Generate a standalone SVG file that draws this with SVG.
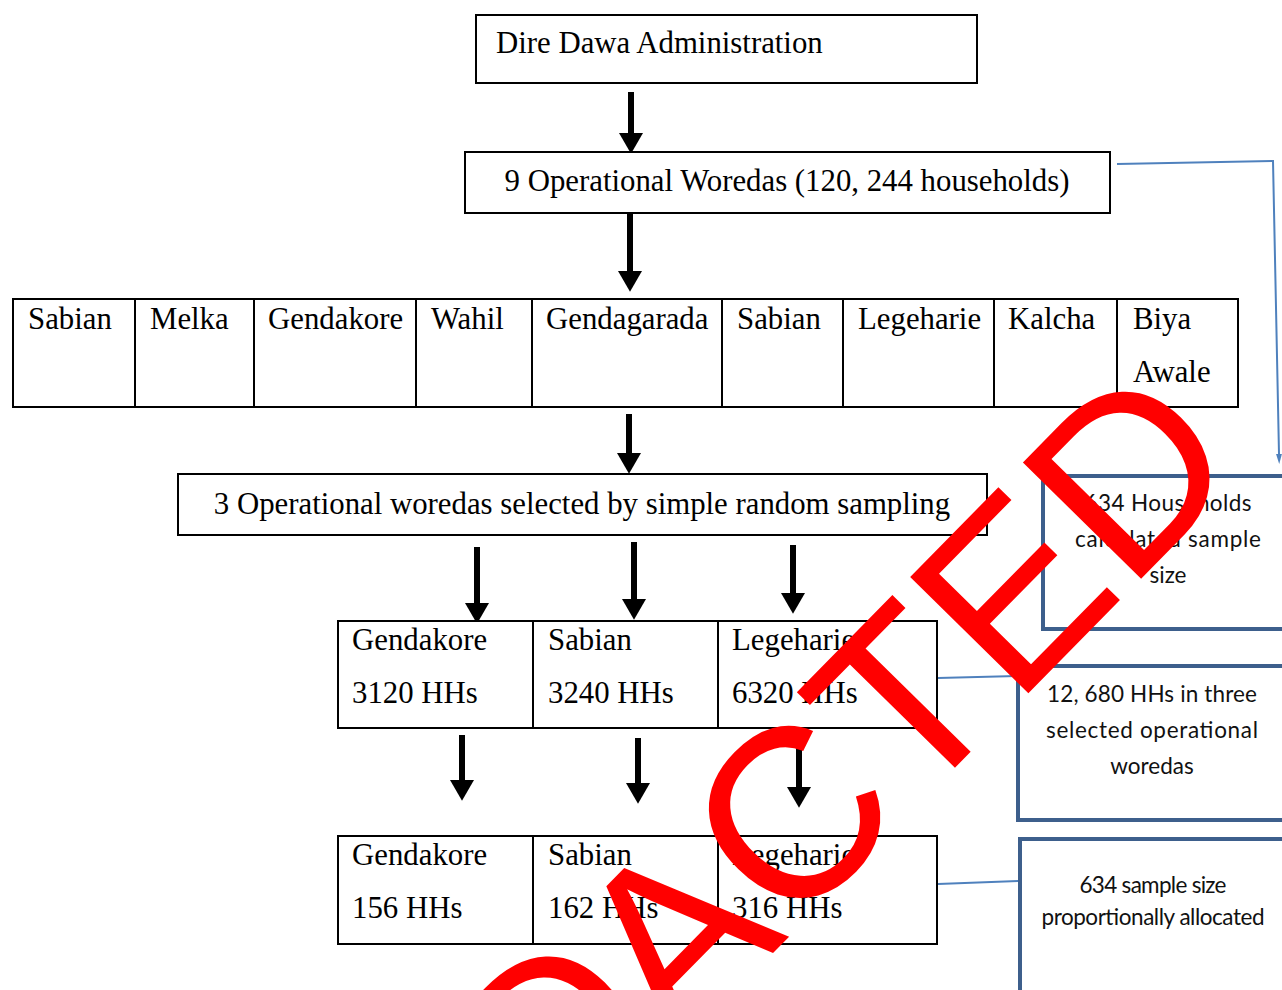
<svg xmlns="http://www.w3.org/2000/svg" width="1282" height="990" viewBox="0 0 1282 990">
<defs>
<style>
.box{fill:#fff;stroke:#000;stroke-width:2}
.bbox{fill:#fff;stroke:#3d5f8c;stroke-width:4}
.t{font-family:"Liberation Serif","Times New Roman",serif;font-size:30.8px;fill:#000}
.c{font-family:Lato,"Open Sans",sans-serif;font-size:22.5px;fill:#111;text-anchor:middle}
.arr{stroke:#000;stroke-width:6;fill:none;marker-end:url(#ah)}
.blue{stroke:#4f81bd;stroke-width:2;fill:none}
.wm{font-family:"Liberation Sans",Arial,sans-serif;font-size:241px;fill:#ff0000}
</style>
<marker id="ah" markerUnits="userSpaceOnUse" markerWidth="24" markerHeight="24" refX="0" refY="11.5" orient="auto" viewBox="0 0 20 23">
<path d="M0,0 L20,11.5 L0,23 Z" fill="#000"/>
</marker>
<marker id="bh" markerUnits="userSpaceOnUse" markerWidth="10" markerHeight="18" refX="0" refY="5" orient="auto" viewBox="0 0 17 10">
<path d="M0,0 L17,5 L0,10 Z" fill="#4f81bd"/>
</marker>
</defs>
<rect width="1282" height="990" fill="#fff"/>

<g id="connectors">
<path class="arr" d="M631,92 V133"/>
<path class="arr" d="M630,214 V271"/>
<path class="arr" d="M629,414 V453"/>
<path class="arr" d="M477,547 V603"/>
<path class="arr" d="M634,542 V599"/>
<path class="arr" d="M793,545 V593"/>
<path class="arr" d="M462,735 V780"/>
<path class="arr" d="M638,738 V783"/>
<path class="arr" d="M799,745 V787"/>
<path class="blue" d="M1117,164 L1273,161 L1279,454" marker-end="url(#bh)"/>
<path class="blue" d="M938,678 L1017,676"/>
<path class="blue" d="M938,884 L1019,881"/>
</g>

<g id="node-dire-dawa">
<rect class="box" x="476" y="15" width="501" height="68"/>
<text class="t" x="496" y="53">Dire Dawa Administration</text>
</g>

<g id="node-9-woredas">
<rect class="box" x="465" y="152" width="645" height="61"/>
<text class="t" x="787" y="191" text-anchor="middle">9 Operational Woredas (120, 244 households)</text>
</g>

<g id="node-woreda-list">
<rect class="box" x="13" y="299" width="1225" height="108"/>
<path d="M135,299 V407 M254,299 V407 M416,299 V407 M532,299 V407 M722,299 V407 M843,299 V407 M994,299 V407 M1117,299 V407" stroke="#000" stroke-width="2"/>
<text class="t" x="28" y="329">Sabian</text>
<text class="t" x="150" y="329">Melka</text>
<text class="t" x="268" y="329">Gendakore</text>
<text class="t" x="431" y="329">Wahil</text>
<text class="t" x="546" y="329">Gendagarada</text>
<text class="t" x="737" y="329">Sabian</text>
<text class="t" x="858" y="329">Legeharie</text>
<text class="t" x="1008" y="329">Kalcha</text>
<text class="t" x="1133" y="329">Biya</text>
<text class="t" x="1133" y="382">Awale</text>
</g>

<g id="node-3-selected">
<rect class="box" x="178" y="474" width="809" height="61"/>
<text class="t" x="582" y="514" text-anchor="middle">3 Operational woredas selected by simple random sampling</text>
</g>

<g id="node-selected-hhs">
<rect class="box" x="338" y="621" width="599" height="107"/>
<path d="M533,621 V728 M718,621 V728" stroke="#000" stroke-width="2"/>
<text class="t" x="352" y="650">Gendakore</text>
<text class="t" x="352" y="703">3120 HHs</text>
<text class="t" x="548" y="650">Sabian</text>
<text class="t" x="548" y="703">3240 HHs</text>
<text class="t" x="732" y="650">Legeharie</text>
<text class="t" x="732" y="703">6320 HHs</text>
</g>

<g id="node-sample-hhs">
<rect class="box" x="338" y="836" width="599" height="108"/>
<path d="M533,836 V944 M718,836 V944" stroke="#000" stroke-width="2"/>
<text class="t" x="352" y="865">Gendakore</text>
<text class="t" x="352" y="918">156 HHs</text>
<text class="t" x="548" y="865">Sabian</text>
<text class="t" x="548" y="918">162 HHs</text>
<text class="t" x="732" y="865">Legeharie</text>
<text class="t" x="732" y="918">316 HHs</text>
</g>

<g id="node-sample-size">
<rect class="bbox" x="1043" y="476" width="260" height="153"/>
<text class="c" x="1168" y="511" textLength="167">634 Households</text>
<text class="c" x="1168" y="547" textLength="186">calculated sample</text>
<text class="c" x="1168" y="583">size</text>
</g>

<g id="node-12680">
<rect class="bbox" x="1018" y="666" width="290" height="154"/>
<text class="c" x="1152" y="702" textLength="210">12, 680 HHs in three</text>
<text class="c" x="1152" y="738" textLength="212">selected operational</text>
<text class="c" x="1152" y="774">woredas</text>
</g>

<g id="node-allocated">
<rect class="bbox" x="1020" y="839" width="290" height="180"/>
<text class="c" x="1153" y="893" textLength="147">634 sample size</text>
<text class="c" x="1153" y="925" textLength="223">proportionally allocated</text>
</g>

<g id="watermark">
<text class="wm" transform="translate(320,1414) rotate(-45.5)">RE<tspan dx="10" dy="-15">D</tspan><tspan dx="-10" dy="15">ACTED</tspan></text>
</g>
</svg>
